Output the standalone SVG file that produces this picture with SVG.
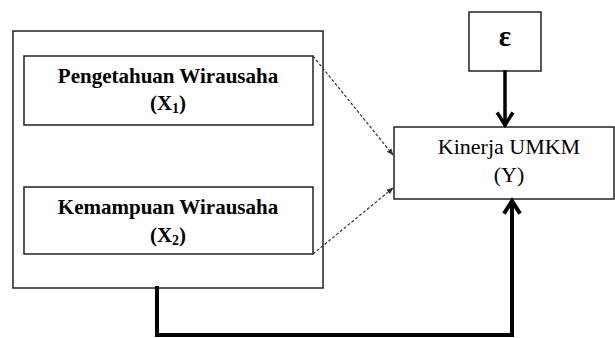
<svg xmlns="http://www.w3.org/2000/svg" width="615" height="338" viewBox="0 0 615 338">
<defs>
<style>
.box{fill:#fff;stroke:#222;stroke-width:1.5}
.lbl{font-family:"Liberation Serif","Times New Roman",serif;fill:#000;text-anchor:middle}
.b{font-weight:bold;font-size:21px}
.r{font-size:22px}
.thick{fill:none;stroke:#000;stroke-linecap:square}
.dash{fill:none;stroke:#333;stroke-width:1.2;stroke-dasharray:3,2}
</style>
<marker id="ah" viewBox="0 0 10 10" refX="9" refY="5" markerWidth="7" markerHeight="7" orient="auto" markerUnits="userSpaceOnUse">
<path d="M0,1 L10,5 L0,9 Z" fill="#333"/>
</marker>
</defs>
<g id="outer">
<rect class="box" x="13" y="31" width="310" height="257"/>
</g>
<g id="x1">
<rect class="box" x="24" y="56" width="289" height="69"/>
<text class="lbl b" x="168" y="83">Pengetahuan Wirausaha</text>
<text class="lbl b" x="168" y="110">(X<tspan font-size="14" dy="3">1</tspan><tspan dy="-3">)</tspan></text>
</g>
<g id="x2">
<rect class="box" x="24" y="187" width="289" height="67"/>
<text class="lbl b" x="168" y="214">Kemampuan Wirausaha</text>
<text class="lbl b" x="168" y="242">(X<tspan font-size="14" dy="3">2</tspan><tspan dy="-3">)</tspan></text>
</g>
<g id="y">
<rect class="box" x="394" y="127" width="220" height="72"/>
<text class="lbl r" x="509" y="154">Kinerja UMKM</text>
<text class="lbl r" x="509" y="182">(Y)</text>
</g>
<g id="e">
<rect class="box" x="469" y="12" width="72" height="59"/>
<text class="lbl" x="505" y="46" font-size="29" font-weight="bold">ε</text>
</g>
<g id="connectors">
<line class="dash" x1="313" y1="56" x2="393" y2="155" marker-end="url(#ah)"/>
<line class="dash" x1="313" y1="254" x2="393" y2="188" marker-end="url(#ah)"/>
<path class="thick" stroke-width="3.5" d="M505 72 V124"/>
<path class="thick" stroke-width="3.5" stroke-linejoin="miter" stroke-linecap="butt" d="M498 114 L505 125 L512 114"/>
<path class="thick" stroke-width="4" stroke-linecap="butt" stroke-linejoin="miter" d="M157 288 V335 H512 V202"/>
<path class="thick" stroke-width="4" stroke-linejoin="miter" stroke-linecap="butt" d="M505 212 L512 201 L519 212"/>
</g>
</svg>
